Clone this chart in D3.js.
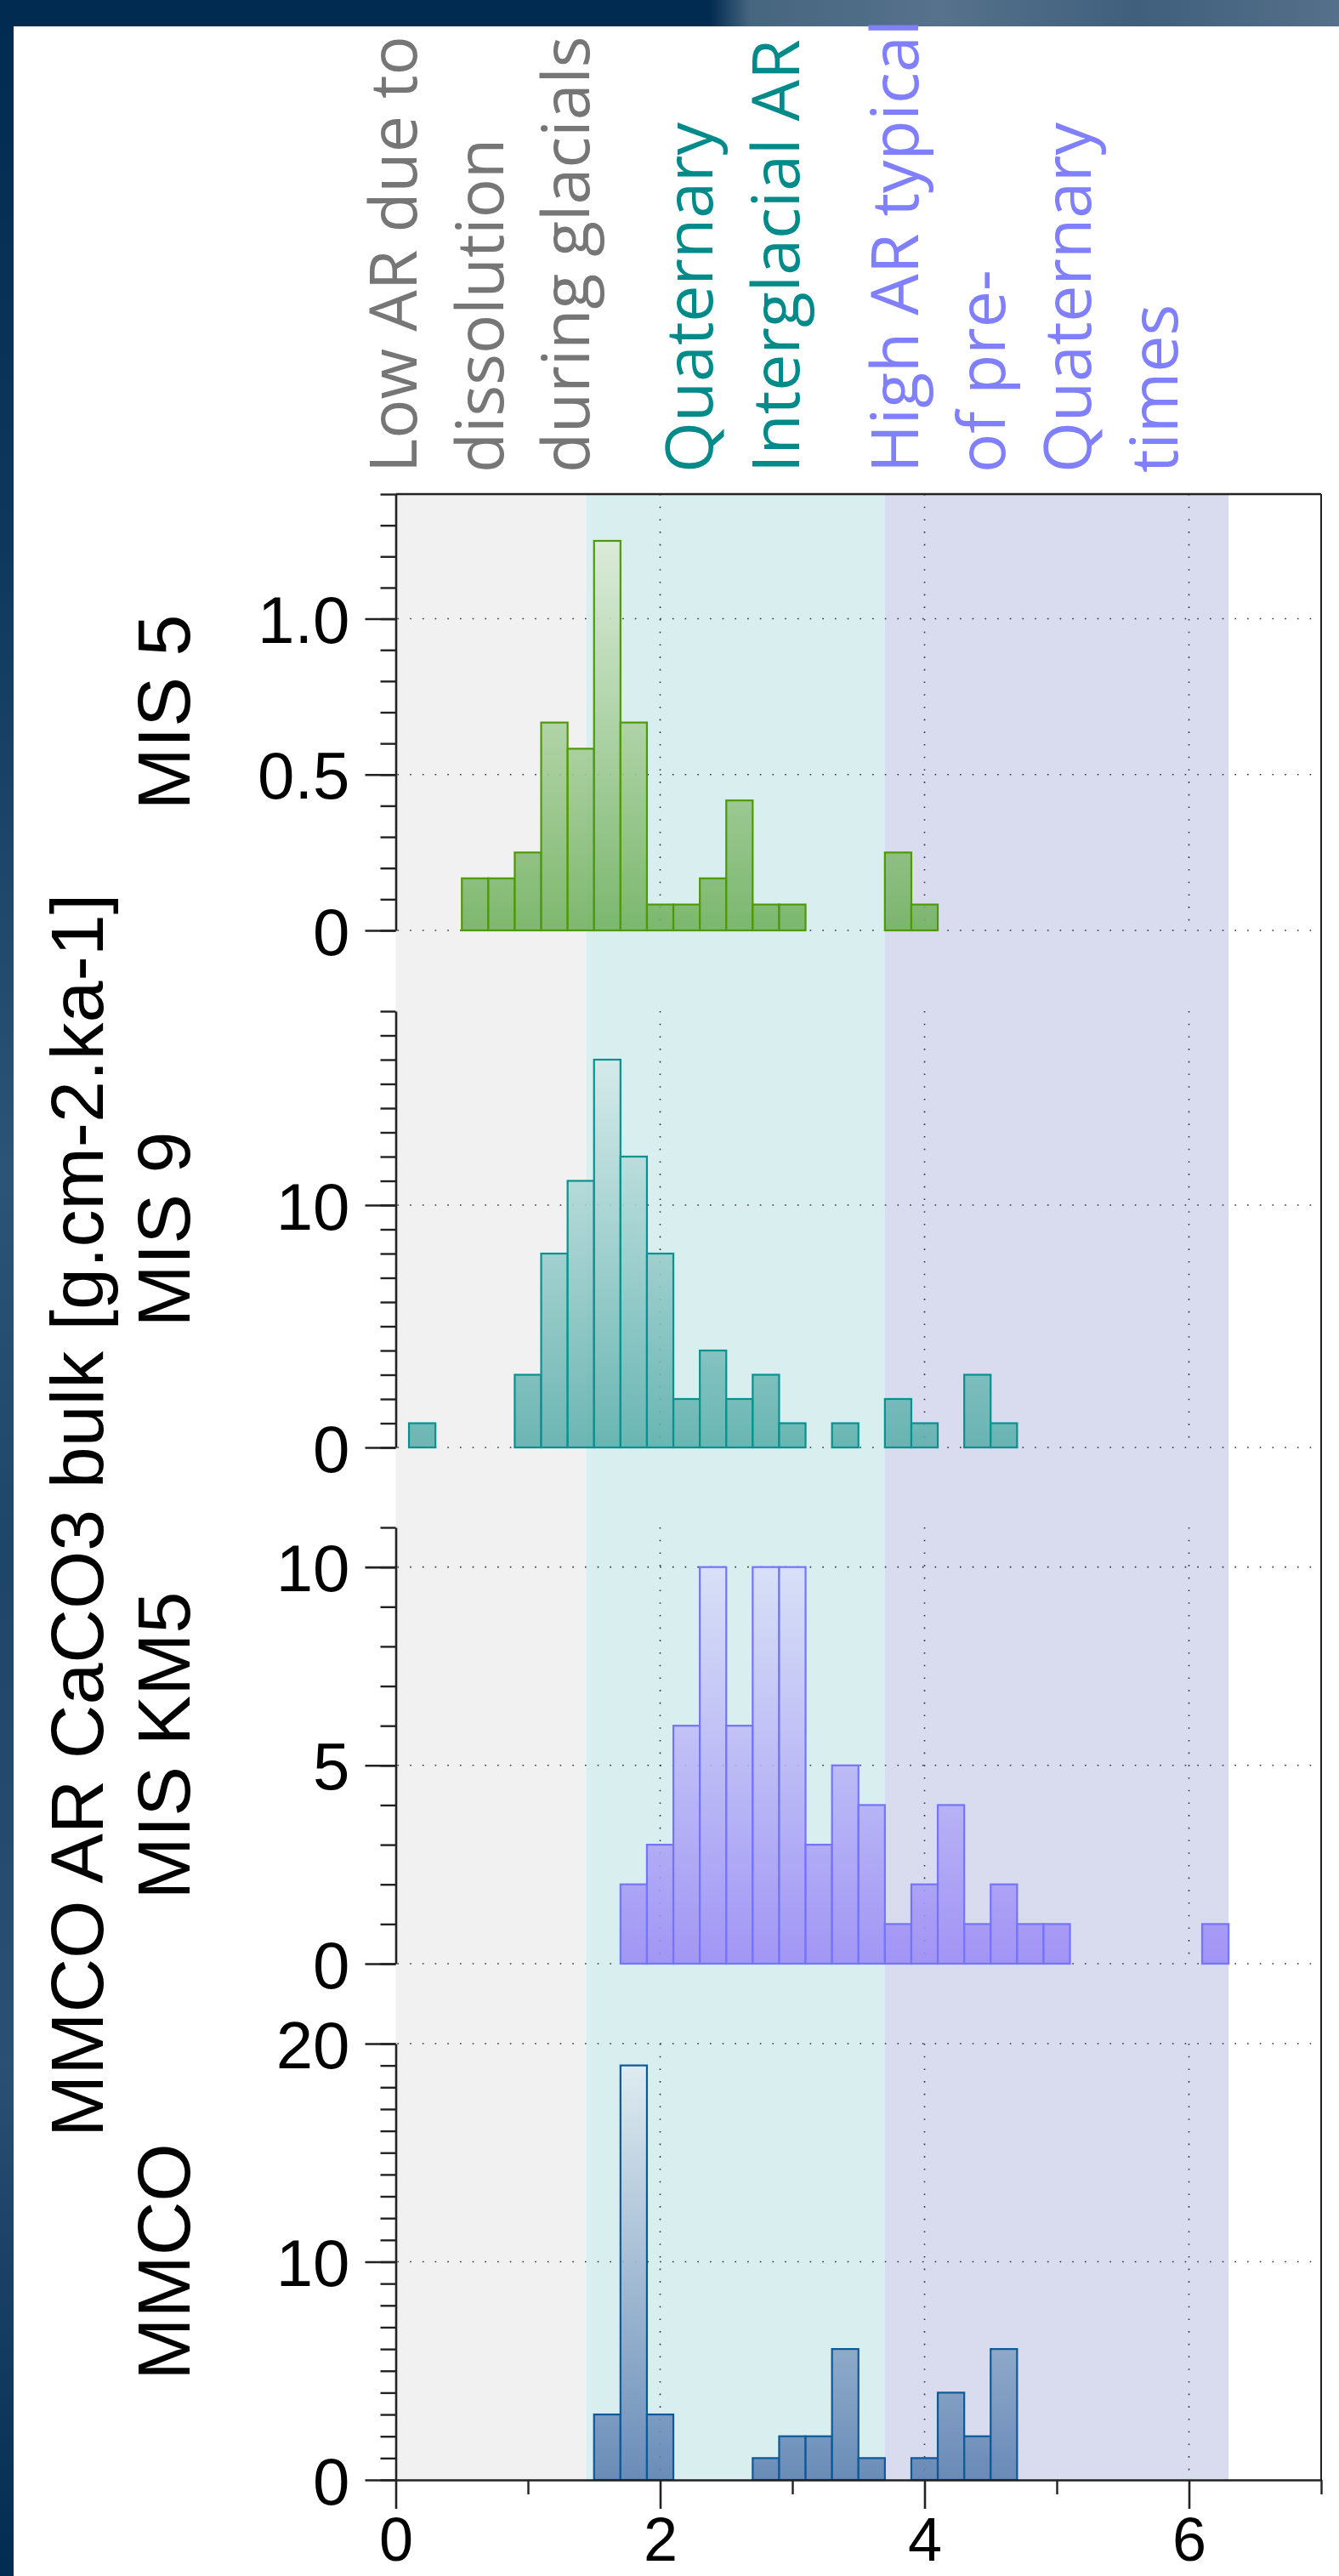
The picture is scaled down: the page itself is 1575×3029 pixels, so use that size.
<!DOCTYPE html>
<html><head><meta charset="utf-8">
<script src="https://cdn.jsdelivr.net/npm/d3@7"></script>
<style>body{margin:0;background:#fff} svg{display:block}</style>
</head><body>
<svg id="chart" width="1575" height="3029"></svg>
<script>
// ---------- data ----------
const binWidth = 0.2;
const mis5Bins   = [0.5,0.7,0.9,1.1,1.3,1.5,1.7,1.9,2.1,2.3,2.5,2.7,2.9,3.7,3.9];
const mis5Values = [0.167,0.167,0.25,0.667,0.583,1.25,0.667,0.083,0.083,0.167,0.417,0.083,0.083,0.25,0.083];
const mis9Bins   = [0.1,0.9,1.1,1.3,1.5,1.7,1.9,2.1,2.3,2.5,2.7,2.9,3.3,3.7,3.9,4.3,4.5];
const mis9Values = [1,3,8,11,16,12,8,2,4,2,3,1,1,2,1,3,1];
const km5Bins    = [1.7,1.9,2.1,2.3,2.5,2.7,2.9,3.1,3.3,3.5,3.7,3.9,4.1,4.3,4.5,4.7,4.9,6.1];
const km5Values  = [2,3,6,10,6,10,10,3,5,4,1,2,4,1,2,1,1,1];
const mmcoBins   = [1.5,1.7,1.9,2.7,2.9,3.1,3.3,3.5,3.9,4.1,4.3,4.5];
const mmcoValues = [3,19,3,1,2,2,6,1,1,4,2,6];

const panelNames = ["MIS 5","MIS 9","MIS KM5","MMCO"];
const yMax = [1.4,18,11,20];
const yMinorStep = [0.1,1,1,1];
const yMajor = [[0,0.5,1.0],[0,10],[0,5,10],[0,10,20]];
const yMajorLabels = [["0","0.5","1.0"],["0","10"],["0","5","10"],["0","10","20"]];
const xMajor = [0,2,4,6];
const xMinor = [1,3,5,7];
const xDomain = [0,7];
const zones = [[0,1.44],[1.44,3.7],[3.7,6.3]];
const zoneLabels = [["Low AR due to","dissolution","during glacials"],
                    ["Quaternary","Interglacial AR"],
                    ["High AR typical","of pre-","Quaternary","times"]];
const yTitle = "MMCO AR CaCO3 bulk [g.cm-2.ka-1]";

// ---------- styles ----------
const zoneFill = ["#f1f1f1","#d8eeef","#d9dbee"];
const zoneText = ["#767676","#008b8a","#8080ff"];
const zoneTextX = [490,838,1080];
const lineStep = 101.5;
const barStroke = ["#4e9a06","#08928f","#7474ff","#0d5a9a"];
const gradTop = ["#e8f2e5","#e3f1f1","#dde7f7","#e6f1f4"];
const gradBot = ["#6fb05c","#5aaeab","#9a8af6","#5a7fb0"];
const panelTops = [581,1189,1796,2403];
const panelH = 513;
const left = 465.5, right = 1554, plotTop = 581, plotBottom = 2916;

const series = [
  {bins: mis5Bins, values: mis5Values},
  {bins: mis9Bins, values: mis9Values},
  {bins: km5Bins, values: km5Values},
  {bins: mmcoBins, values: mmcoValues}
];

const svg = d3.select("#chart");
const defs = svg.append("defs");

// background frame
const bgTop = defs.append("linearGradient").attr("id","bgTop").attr("x1","0").attr("x2","1").attr("y1","0").attr("y2","0");
[["0","#012b50"],["0.53","#012b50"],["0.56","#46657f"],["0.7","#56728c"],["0.85","#3f5f7c"],["1","#55708a"]]
  .forEach(s=>bgTop.append("stop").attr("offset",s[0]).attr("stop-color",s[1]));
const bgLeft = defs.append("linearGradient").attr("id","bgLeft").attr("x1","0").attr("x2","0").attr("y1","0").attr("y2","1");
[["0","#012b50"],["0.2","#0d375c"],["0.45","#2c5476"],["0.6","#1e4668"],["0.8","#2a5073"],["1","#012b50"]]
  .forEach(s=>bgLeft.append("stop").attr("offset",s[0]).attr("stop-color",s[1]));
svg.append("rect").attr("x",0).attr("y",0).attr("width",1575).attr("height",3029).attr("fill","#012b50");
svg.append("rect").attr("x",0).attr("y",0).attr("width",1575).attr("height",31).attr("fill","url(#bgTop)");
svg.append("rect").attr("x",0).attr("y",31).attr("width",16).attr("height",2998).attr("fill","url(#bgLeft)");
svg.append("rect").attr("x",16).attr("y",31).attr("width",1559).attr("height",2998).attr("fill","#ffffff");

const x = d3.scaleLinear().domain(xDomain).range([left,right]);

// zones
svg.append("g").selectAll("rect").data(zones).join("rect")
  .attr("x",d=>x(d[0])).attr("width",d=>x(d[1])-x(d[0]))
  .attr("y",plotTop).attr("height",plotBottom-plotTop)
  .attr("fill",(d,i)=>zoneFill[i]);

// zone labels
zoneLabels.forEach((lines,gi)=>{
  lines.forEach((t,li)=>{
    svg.append("text")
      .attr("transform",`translate(${zoneTextX[gi]+li*lineStep},556) rotate(-90)`)
      .attr("text-anchor","start")
      .attr("font-family","'Open Sans', 'Noto Sans', sans-serif")
      .attr("font-size",77)
      .attr("fill",zoneText[gi])
      .text(t);
  });
});

const gridColor = "#333";
const dash = "1.6 13.1";

series.forEach((s,pi)=>{
  const y = d3.scaleLinear().domain([0,yMax[pi]]).range([panelTops[pi]+panelH, panelTops[pi]]);
  const g = svg.append("g");

  // gradient
  const gr = defs.append("linearGradient").attr("id","bar"+pi)
    .attr("gradientUnits","userSpaceOnUse").attr("x1",0).attr("x2",0)
    .attr("y1",y(yMax[pi])).attr("y2",y(0));
  gr.append("stop").attr("offset","0").attr("stop-color",gradTop[pi]);
  gr.append("stop").attr("offset","1").attr("stop-color",gradBot[pi]);

  // vertical grid
  g.append("g").selectAll("line").data(xMajor.filter(d=>d>0)).join("line")
    .attr("x1",d=>x(d)).attr("x2",d=>x(d))
    .attr("y1",y(yMax[pi])).attr("y2",y(0))
    .attr("stroke",gridColor).attr("stroke-width",1.6).attr("stroke-dasharray",dash);
  // horizontal grid
  const hg = (pi===3) ? yMajor[pi].filter(d=>d>0) : yMajor[pi];
  g.append("g").selectAll("line").data(hg).join("line")
    .attr("x1",left+2).attr("x2",right)
    .attr("y1",d=>y(d)).attr("y2",d=>y(d))
    .attr("stroke",gridColor).attr("stroke-width",1.6).attr("stroke-dasharray",dash);

  // bars
  const data = s.bins.map((b,i)=>({b, v:s.values[i]}));
  g.append("g").selectAll("rect").data(data).join("rect")
    .attr("x",d=>x(d.b)).attr("width",d=>x(d.b+binWidth)-x(d.b))
    .attr("y",d=>y(d.v)).attr("height",d=>y(0)-y(d.v))
    .attr("fill","url(#bar"+pi+")").attr("fill-opacity",0.88)
    .attr("stroke",barStroke[pi]).attr("stroke-width",2.2);

  // minor ticks
  const minorVals = d3.range(0, yMax[pi]+yMinorStep[pi]/2, yMinorStep[pi]);
  const minorAxis = d3.axisLeft(y).tickValues(minorVals).tickSize(18).tickSizeOuter(0).tickFormat("");
  const ma = g.append("g").attr("transform",`translate(${left},0)`).call(minorAxis);
  ma.select(".domain").remove();
  ma.selectAll("line").attr("stroke","#222").attr("stroke-width",2.4);

  // major ticks + labels
  const majorAxis = d3.axisLeft(y).tickValues(yMajor[pi]).tickSize(36).tickSizeOuter(0).tickPadding(18)
    .tickFormat((d,i)=>yMajorLabels[pi][i]);
  const mg = g.append("g").attr("transform",`translate(${left},0)`).call(majorAxis);
  mg.select(".domain").attr("stroke","#222").attr("stroke-width",2.6);
  mg.selectAll("line").attr("stroke","#222").attr("stroke-width",2.6);
  mg.selectAll("text").attr("font-family","'Liberation Sans', Arial, sans-serif")
    .attr("font-size",78).attr("fill","#000").attr("dy","0.36em");

  // panel label
  svg.append("text")
    .attr("transform",`translate(223,${panelTops[pi]+panelH/2}) rotate(-90)`)
    .attr("text-anchor","middle")
    .attr("font-family","'Liberation Sans', Arial, sans-serif")
    .attr("font-size",88).attr("fill","#000")
    .text(panelNames[pi]);
});

// frame top and right
svg.append("line").attr("x1",left).attr("x2",right).attr("y1",plotTop).attr("y2",plotTop)
  .attr("stroke","#222").attr("stroke-width",2.6);
svg.append("line").attr("x1",right).attr("x2",right).attr("y1",plotTop).attr("y2",plotBottom)
  .attr("stroke","#222").attr("stroke-width",2);

// x axis
const xMinorAxis = d3.axisBottom(x).tickValues(xMinor).tickSize(17).tickSizeOuter(0).tickFormat("");
const xm = svg.append("g").attr("transform",`translate(0,${plotBottom})`).call(xMinorAxis);
xm.select(".domain").remove();
xm.selectAll("line").attr("stroke","#222").attr("stroke-width",2.4);
const xAxis = d3.axisBottom(x).tickValues(xMajor).tickSize(34).tickSizeOuter(0).tickPadding(10).tickFormat(d3.format("d"));
const xa = svg.append("g").attr("transform",`translate(0,${plotBottom})`).call(xAxis);
xa.select(".domain").attr("stroke","#222").attr("stroke-width",2.6);
xa.selectAll("line").attr("stroke","#222").attr("stroke-width",2.6);
xa.selectAll("text").attr("font-family","'Liberation Sans', Arial, sans-serif")
  .attr("font-size",72).attr("fill","#000");

// y title
svg.append("text")
  .attr("transform",`translate(121,1782) rotate(-90)`)
  .attr("text-anchor","middle")
  .attr("font-family","'Liberation Sans', Arial, sans-serif")
  .attr("font-size",88).attr("fill","#000")
  .text(yTitle);
</script>
</body></html>
